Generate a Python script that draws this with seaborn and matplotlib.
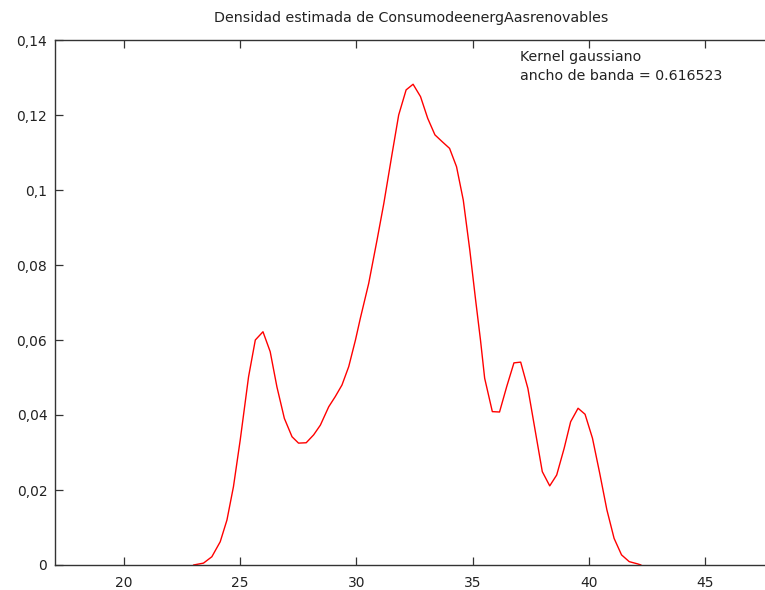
import matplotlib
matplotlib.use("Agg")
import matplotlib.pyplot as plt
import seaborn as sns
import pandas as pd

# Estimated density (Gaussian kernel) evaluated on the plotting grid
grid_x = [22.99, 23.42, 23.78, 24.14, 24.43, 24.71, 25.00, 25.36, 25.65, 25.98,
          26.29, 26.58, 26.90, 27.23, 27.51, 27.84, 28.16, 28.45, 28.81, 29.09,
          29.38, 29.67, 29.96, 30.17, 30.53, 30.89, 31.18, 31.54, 31.82, 32.14,
          32.44, 32.76, 33.07, 33.38, 33.69, 34.01, 34.31, 34.60, 34.88, 35.13,
          35.34, 35.52, 35.85, 36.16, 36.47, 36.78, 37.07, 37.38, 37.69, 38.00,
          38.32, 38.62, 38.94, 39.22, 39.54, 39.84, 40.16, 40.47, 40.78, 41.09,
          41.41, 41.74, 42.10, 42.25]
density = [0.0000, 0.0005, 0.0022, 0.0062, 0.0120, 0.0209, 0.0333, 0.0502, 0.0600, 0.0622,
           0.0569, 0.0475, 0.0391, 0.0342, 0.0325, 0.0326, 0.0347, 0.0373, 0.0422, 0.0449,
           0.0480, 0.0529, 0.0600, 0.0658, 0.0751, 0.0867, 0.0964, 0.1098, 0.1200, 0.1267,
           0.1282, 0.1249, 0.1191, 0.1147, 0.1129, 0.1111, 0.1062, 0.0973, 0.0840, 0.0707,
           0.0600, 0.0498, 0.0409, 0.0408, 0.0476, 0.0539, 0.0541, 0.0471, 0.0360, 0.0249,
           0.0211, 0.0240, 0.0311, 0.0382, 0.0418, 0.0402, 0.0338, 0.0245, 0.0147, 0.0071,
           0.0027, 0.0009, 0.0003, 0.0000]

x_ticks = [20, 25, 30, 35, 40, 45]
y_ticks = [0, 0.02, 0.04, 0.06, 0.08, 0.1, 0.12, 0.14]
y_tick_labels = ["0", "0,02", "0,04", "0,06", "0,08", "0,1", "0,12", "0,14"]

title = "Densidad estimada de ConsumodeenergAasrenovables"
note_lines = ["Kernel gaussiano", "ancho de banda = 0.616523"]

sns.set_theme(style="white")
plt.rcParams["font.family"] = ["DejaVu Sans"]

df = pd.DataFrame({"x": grid_x, "densidad": density})

fig = plt.figure(figsize=(7.65, 5.9), dpi=100)
ax = fig.add_axes([55 / 765, 1 - 565 / 590, 1 - 55 / 765 + 0.002, (565 - 40) / 590])

sns.lineplot(data=df, x="x", y="densidad", ax=ax, color="#ff0000",
             linewidth=1.0, estimator=None, sort=False)

ax.set_xlim(17.03, 47.65)
ax.set_ylim(0, 0.14)
ax.set_xticks(x_ticks)
ax.set_xticklabels([str(t) for t in x_ticks])
ax.set_yticks(y_ticks)
ax.set_yticklabels(y_tick_labels)
ax.set_xlabel("")
ax.set_ylabel("")

for side in ["left", "bottom", "top"]:
    ax.spines[side].set_visible(True)
    ax.spines[side].set_color("#333333")
    ax.spines[side].set_linewidth(1.0)
ax.spines["right"].set_visible(False)

ax.tick_params(axis="both", which="major", direction="in", length=5.5,
               width=0.9, color="#333333", labelsize=10, labelcolor="#222222",
               top=True, bottom=True, left=True, right=False)
ax.tick_params(axis="x", pad=8)
ax.tick_params(axis="y", pad=5.5)

ax.set_title(title, fontsize=10.3, color="#222222", pad=13)

for i, line in enumerate(note_lines):
    ax.text(520, 590 - (57 + 19 * i), line, transform=None, fontsize=10.2,
            color="#222222", va="center", ha="left")

fig.savefig("out.png", dpi=100)
